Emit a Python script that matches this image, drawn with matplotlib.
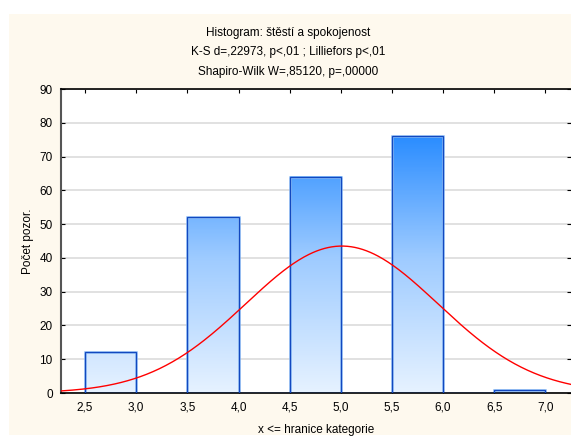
import numpy as np
import matplotlib.pyplot as plt
from matplotlib.patches import Rectangle
from matplotlib.colors import LinearSegmentedColormap

# histogram data: upper class limits (x <= limit) and counts
bin_edges = [2.5, 3.0, 3.5, 4.0, 4.5, 5.0, 5.5, 6.0, 6.5, 7.0]
counts = [12, 0, 52, 0, 64, 0, 76, 0, 1]
tick_labels = ["2,5", "3,0", "3,5", "4,0", "4,5", "5,0", "5,5", "6,0", "6,5", "7,0"]

# fitted normal curve (mean, sd, n)
mu, sigma, n_obs = 5.01, 0.94, 205

titles = ["Histogram: štěstí a spokojenost",
          "K-S d=,22973, p<,01 ; Lilliefors p<,01",
          "Shapiro-Wilk W=,85120, p=,00000"]

plt.rcParams['font.family'] = ['Liberation Sans', 'DejaVu Sans']

fig = plt.figure(figsize=(5.71, 4.37), dpi=100, facecolor="white")
# cream panel behind the chart
fig.patches.append(Rectangle((9 / 571, 2 / 437), 1, 1 - 16 / 437, transform=fig.transFigure,
                             facecolor="#FEF9EE", edgecolor="none", zorder=-10))

ax = fig.add_axes([61 / 571, 1 - 393 / 437, 1 - 61 / 571, (393 - 89) / 437])
ax.set_facecolor("white")
ax.set_xlim(2.265, 7.25)
ax.set_ylim(0, 90)

cmap = LinearSegmentedColormap.from_list("bars", ["#E6F2FF", "#9ECBFF", "#1E86FF"])
vmax = 80
for left, right, c in zip(bin_edges[:-1], bin_edges[1:], counts):
    if c > 0:
        grad = np.linspace(0, c, 200).reshape(-1, 1)
        ax.imshow(grad, extent=[left, right, 0, c], origin="lower", aspect="auto",
                  cmap=cmap, vmin=0, vmax=vmax, zorder=2)
        ax.add_patch(Rectangle((left, 0), right - left, c, fill=False,
                               edgecolor="#8DBDF5", linewidth=1.8, zorder=2.5))
    ax.add_patch(Rectangle((left, 0), right - left, c, fill=False,
                           edgecolor="#1248C0", linewidth=0.9, zorder=3))

xs = np.linspace(2.265, 7.25, 400)
ys = n_obs * 0.5 / (sigma * np.sqrt(2 * np.pi)) * np.exp(-0.5 * ((xs - mu) / sigma) ** 2)
ax.plot(xs, ys, color="#FF0000", linewidth=1.0, zorder=4)

ax.set_yticks(range(0, 91, 10))
ax.set_xticks(bin_edges)
ax.set_xticklabels(tick_labels)
ax.yaxis.grid(True, color="#DCDCDC", linewidth=1.2)
ax.set_axisbelow(True)
ax.tick_params(direction="in", length=3, labelsize=8.5, top=True, right=True, colors="black")
ax.tick_params(axis="x", pad=6)
ax.tick_params(axis="y", pad=6)
ax.spines["left"].set_color("#555555")
ax.spines["left"].set_linewidth(1.5)
ax.spines["top"].set_linewidth(1.2)
ax.spines["bottom"].set_linewidth(1.2)
ax.spines["right"].set_visible(False)

ax.set_xlabel("x <= hranice kategorie", fontsize=8.5, labelpad=8)
ax.set_ylabel("Počet pozor.", fontsize=8.5, labelpad=4)

for i, t in enumerate(titles):
    fig.text(0.5 + 3 / 571, 1 - (33 + 19.5 * i) / 437, t, ha="center", va="center", fontsize=8.5)

fig.savefig("out.png", dpi=100)
